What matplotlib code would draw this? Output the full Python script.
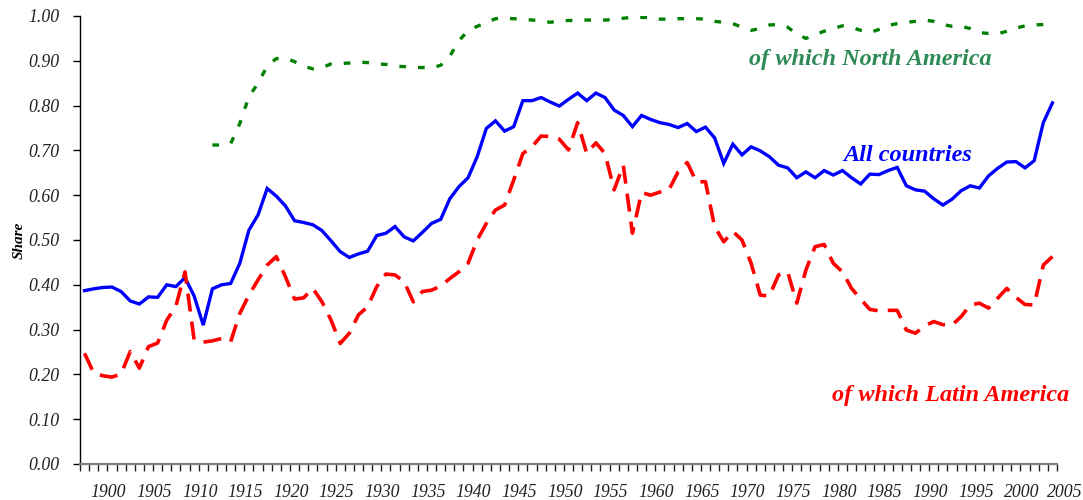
import numpy as np
import matplotlib
matplotlib.use("Agg")
from matplotlib import pyplot as plt
from matplotlib.ticker import FixedLocator, NullFormatter

years = np.arange(1897, 2004)

all_countries = [
    0.387, 0.391, 0.394, 0.395, 0.385, 0.364, 0.357, 0.373, 0.372, 0.400,
    0.396, 0.416, 0.375, 0.310, 0.391, 0.400, 0.403, 0.448, 0.522, 0.556,
    0.615, 0.598, 0.576, 0.543, 0.539, 0.534, 0.521, 0.498, 0.474, 0.461,
    0.469, 0.475, 0.510, 0.515, 0.530, 0.507, 0.498, 0.517, 0.537, 0.546,
    0.592, 0.619, 0.639, 0.686, 0.749, 0.766, 0.743, 0.753, 0.811, 0.811,
    0.818, 0.808, 0.799, 0.814, 0.828, 0.811, 0.828, 0.818, 0.790, 0.778,
    0.753, 0.778, 0.769, 0.762, 0.758, 0.751, 0.760, 0.742, 0.752, 0.728,
    0.671, 0.714, 0.690, 0.708, 0.699, 0.686, 0.667, 0.661, 0.639, 0.652,
    0.639, 0.655, 0.645, 0.655, 0.639, 0.625, 0.647, 0.646, 0.655, 0.662,
    0.621, 0.612, 0.609, 0.592, 0.578, 0.591, 0.610, 0.621, 0.616, 0.643,
    0.660, 0.674, 0.675, 0.661, 0.677, 0.762, 0.806,
]

latin_america = [
    0.247, 0.203, 0.197, 0.194, 0.201, 0.251, 0.214, 0.262, 0.270, 0.321,
    0.352, 0.429, 0.277, 0.272, 0.275, 0.280, 0.273, 0.336, 0.377, 0.411,
    0.444, 0.463, 0.418, 0.368, 0.371, 0.392, 0.362, 0.321, 0.269, 0.292,
    0.333, 0.351, 0.396, 0.424, 0.422, 0.407, 0.362, 0.385, 0.388, 0.397,
    0.414, 0.429, 0.448, 0.500, 0.537, 0.567, 0.578, 0.634, 0.693, 0.708,
    0.732, 0.731, 0.725, 0.701, 0.762, 0.693, 0.717, 0.693, 0.612, 0.667,
    0.515, 0.606, 0.600, 0.607, 0.612, 0.652, 0.673, 0.630, 0.630, 0.530,
    0.496, 0.519, 0.500, 0.448, 0.377, 0.375, 0.422, 0.429, 0.359, 0.433,
    0.485, 0.490, 0.448, 0.429, 0.392, 0.368, 0.345, 0.342, 0.343, 0.343,
    0.299, 0.292, 0.308, 0.318, 0.311, 0.310, 0.329, 0.355, 0.359, 0.348,
    0.370, 0.392, 0.372, 0.356, 0.355, 0.444, 0.463,
]

na_years = np.arange(1911, 2004)
north_america = [
    0.712, 0.712, 0.715, 0.760, 0.820, 0.850, 0.888, 0.905, 0.906, 0.898,
    0.888, 0.882, 0.885, 0.893, 0.894, 0.895, 0.897, 0.896, 0.893, 0.892,
    0.888, 0.887, 0.885, 0.885, 0.884, 0.890, 0.910, 0.945, 0.967, 0.977,
    0.985, 0.994, 0.995, 0.994, 0.993, 0.991, 0.989, 0.986, 0.989, 0.990,
    0.990, 0.991, 0.991, 0.991, 0.992, 0.995, 0.997, 0.997, 0.996, 0.993,
    0.993, 0.994, 0.994, 0.994, 0.993, 0.988, 0.986, 0.983, 0.975, 0.968,
    0.972, 0.980, 0.981, 0.975, 0.960, 0.950, 0.958, 0.966, 0.972, 0.978,
    0.975, 0.968, 0.963, 0.970, 0.979, 0.983, 0.986, 0.988, 0.991, 0.988,
    0.981, 0.977, 0.977, 0.972, 0.963, 0.961, 0.960, 0.966, 0.973, 0.978,
    0.980, 0.981, 0.982,
]

label_years = np.arange(1900, 2010, 5)
y_ticks = np.arange(0, 1.01, 0.1)

fig = plt.figure(figsize=(10.83, 5.0), dpi=100)
ax = fig.add_axes([80 / 1083, 36 / 500, 977 / 1083, 448 / 500])

ax.plot(years, all_countries, color="#0000FF", lw=2.4, solid_joinstyle="miter")
ax.plot(years, latin_america, color="#FF0000", lw=2.6, dashes=(5.0, 2.8))
ax.plot(na_years, north_america, color="#008000", lw=2.4, dashes=(2.0, 3.6))

ax.set_xlim(1896.5, 2003.5)
ax.set_ylim(0, 1.0)

for s in ["top", "right"]:
    ax.spines[s].set_visible(False)
ax.spines["left"].set_linewidth(1.0)
ax.spines["bottom"].set_linewidth(1.6)
ax.spines["bottom"].set_color("#808080")

tick_font = {"family": "Liberation Serif", "style": "italic", "size": 12.8, "color": "#222222"}

ax.set_yticks(y_ticks)
ax.set_yticklabels(["%.2f" % v for v in y_ticks], fontdict=tick_font)
ax.tick_params(axis="y", length=5, width=1, pad=10)

ax.xaxis.set_major_locator(FixedLocator(np.arange(1896.5, 2004.0, 1.0)))
ax.xaxis.set_major_formatter(NullFormatter())
ax.tick_params(axis="x", length=5, width=1, color="#222222")

for yr in label_years:
    shift = 0.7 if yr == 2005 else 0.4
    ax.text(yr - shift, -0.064, str(yr), ha="center", va="center",
            clip_on=False, fontdict=tick_font)

ax.set_ylabel("Share", fontfamily="Liberation Serif", fontstyle="italic",
              fontweight="bold", fontsize=11, labelpad=2)

ann = {"family": "Liberation Serif", "style": "italic", "weight": "bold", "size": 17.5}
ax.text(1983.1, 0.902, "of which North America", color="#2E8B57", ha="center", va="center", fontdict=ann)
ax.text(1987.1, 0.688, "All countries", color="#0000FF", ha="center", va="center", fontdict=ann)
ax.text(1991.9, 0.153, "of which Latin America", color="#FF0000", ha="center", va="center", fontdict=ann)

fig.savefig("out.png", dpi=100)
